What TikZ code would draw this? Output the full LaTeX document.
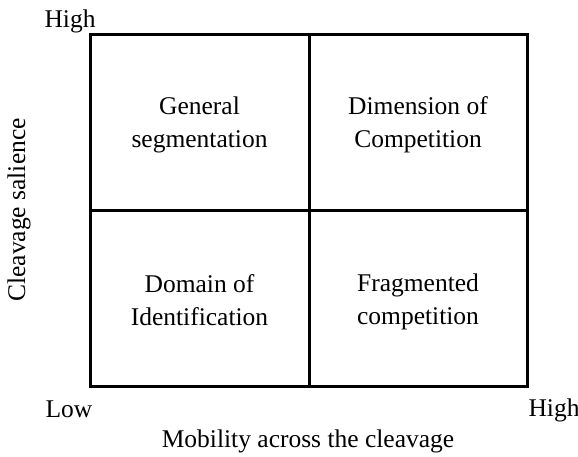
\documentclass[tikz,border=0pt]{standalone}
\usepackage{fontspec}
\setmainfont{Liberation Serif}

\begin{document}
\begin{tikzpicture}[x=1pt,y=-1pt,font=\fontsize{25.5}{33}\selectfont,
    grid/.style={line width=3pt},
    cell/.style={align=center}]
    \useasboundingbox (0,0) rectangle (578,457);
    \draw[grid] (90,35) rectangle (527,386);
    \draw[grid] (309,35) -- (309,386);
    \draw[grid] (90,211) -- (527,211);
    \node[cell] (general) at (199.5,125) {General\\segmentation};
    \node[cell] (dimension) at (418,125) {Dimension of\\Competition};
    \node[cell] (domain) at (199.5,300) {Domain of\\Identification};
    \node[cell] (fragmented) at (418,302) {Fragmented\\competition};
    \node (yhigh) at (70,21) {High};
    \node (xlow) at (69,409) {Low};
    \node (xhigh) at (554,410) {High};
    \node (xlabel) at (308,441) {Mobility across the cleavage};
    \node[rotate=90] (ylabel) at (19,210) {Cleavage salience};
\end{tikzpicture}
\end{document}
